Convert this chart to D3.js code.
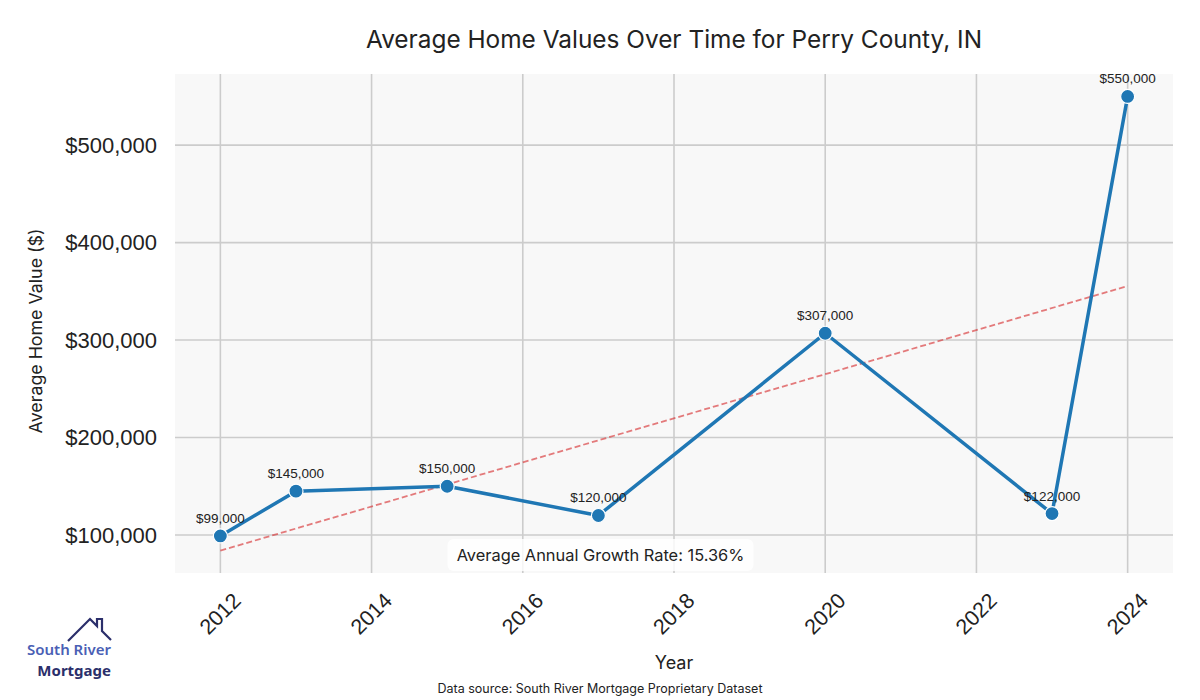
<!DOCTYPE html>
<html>
<head>
<meta charset="utf-8">
<script src="https://cdn.jsdelivr.net/npm/d3@7"></script>
<style>
  body { margin: 0; background: #fff; }
  svg text { fill: #222; }
</style>
</head>
<body>
<div class="chart"></div>
<script>
// data
var years = [2012, 2013, 2015, 2017, 2020, 2023, 2024];
var values = [99000, 145000, 150000, 120000, 307000, 122000, 550000];
var trendYears = [2012, 2024];
var trendValues = [84000, 355500];
var xTicks = [2012, 2014, 2016, 2018, 2020, 2022, 2024];
var yTicks = [100000, 200000, 300000, 400000, 500000];
var growthText = "Average Annual Growth Rate: 15.36%";

var svgWidth = 1200;
var svgHeight = 700;
var margin = {top: 74, right: 27, bottom: 127, left: 175};
var width = svgWidth - margin.left - margin.right;
var height = svgHeight - margin.top - margin.bottom;

var headFont = "Inter, 'Noto Sans', sans-serif";
var numFont = "'Liberation Sans', Arial, sans-serif";

var svg = d3.select(".chart")
  .append("svg")
  .attr("width", svgWidth)
  .attr("height", svgHeight);

var chartGroup = svg.append("g")
  .attr("transform", `translate(${margin.left},${margin.top})`);

var xScale = d3.scaleLinear()
  .domain([2011.4, 2024.6])
  .range([0, width]);

var yScale = d3.scaleLinear()
  .domain([61000, 573000])
  .range([height, 0]);

// plot background
chartGroup.append("rect")
  .attr("width", width)
  .attr("height", height)
  .attr("fill", "#f8f8f8");

// grid
chartGroup.selectAll(".vgrid")
  .data(xTicks)
  .enter()
  .append("line")
  .attr("x1", d => xScale(d))
  .attr("x2", d => xScale(d))
  .attr("y1", 0)
  .attr("y2", height)
  .attr("stroke", "#cccccc")
  .attr("stroke-width", 1.6);

chartGroup.selectAll(".hgrid")
  .data(yTicks)
  .enter()
  .append("line")
  .attr("x1", 0)
  .attr("x2", width)
  .attr("y1", d => yScale(d))
  .attr("y2", d => yScale(d))
  .attr("stroke", "#cccccc")
  .attr("stroke-width", 1.6);

// axes (labels only)
var fmt = d3.format("$,");
var leftAxis = d3.axisLeft(yScale).tickValues(yTicks).tickFormat(fmt).tickSize(0).tickPadding(18);
var yAxisG = chartGroup.append("g").call(leftAxis);
yAxisG.select(".domain").remove();
yAxisG.selectAll("text")
  .style("font-family", numFont)
  .style("font-size", "22px")
  .attr("fill", "#222");

var xAxisG = chartGroup.append("g")
  .attr("transform", `translate(0, ${height})`);
xAxisG.selectAll("text")
  .data(xTicks)
  .enter()
  .append("text")
  .attr("transform", d => `translate(${xScale(d)}, 41) rotate(-45)`)
  .attr("text-anchor", "middle")
  .attr("dominant-baseline", "central")
  .style("font-family", numFont)
  .style("font-size", "21.5px")
  .text(d => d);

// trend line
var trendLine = d3.line()
  .x((d, i) => xScale(trendYears[i]))
  .y(d => yScale(d));

chartGroup.append("path")
  .datum(trendValues)
  .attr("d", trendLine)
  .attr("fill", "none")
  .attr("stroke", "#d62728")
  .attr("stroke-opacity", 0.6)
  .attr("stroke-width", 1.8)
  .attr("stroke-dasharray", "6,3");

// main line
var valueLine = d3.line()
  .x((d, i) => xScale(years[i]))
  .y(d => yScale(d));

chartGroup.append("path")
  .datum(values)
  .attr("d", valueLine)
  .attr("fill", "none")
  .attr("stroke", "#1f77b4")
  .attr("stroke-width", 3.5)
  .attr("stroke-linejoin", "round");

chartGroup.selectAll("circle")
  .data(values)
  .enter()
  .append("circle")
  .attr("cx", (d, i) => xScale(years[i]))
  .attr("cy", d => yScale(d))
  .attr("r", 7)
  .attr("fill", "#1f77b4")
  .attr("stroke", "#fff")
  .attr("stroke-width", 1.2);

chartGroup.selectAll(".pt-label")
  .data(values)
  .enter()
  .append("text")
  .attr("x", (d, i) => xScale(years[i]))
  .attr("y", d => yScale(d) - 13)
  .attr("text-anchor", "middle")
  .style("font-family", numFont)
  .style("font-size", "13.5px")
  .attr("fill", "#222")
  .text(d => fmt(d));

// growth rate box
var boxG = chartGroup.append("g")
  .attr("transform", `translate(${(447 + 754) / 2 - margin.left}, ${555 - margin.top})`);
boxG.append("rect")
  .attr("x", -153)
  .attr("y", -16)
  .attr("width", 306)
  .attr("height", 32)
  .attr("rx", 6)
  .attr("fill", "#fff")
  .attr("fill-opacity", 0.8);
boxG.append("text")
  .attr("text-anchor", "middle")
  .attr("dominant-baseline", "central")
  .style("font-family", headFont)
  .style("font-size", "16.4px")
  .text(growthText);

// titles
svg.append("text")
  .attr("x", margin.left + width / 2)
  .attr("y", 48)
  .attr("text-anchor", "middle")
  .style("font-family", headFont)
  .style("font-size", "24.4px")
  .text("Average Home Values Over Time for Perry County, IN");

svg.append("text")
  .attr("transform", `translate(42, 331) rotate(-90)`)
  .attr("text-anchor", "middle")
  .style("font-family", headFont)
  .style("font-size", "17.8px")
  .text("Average Home Value ($)");

svg.append("text")
  .attr("x", margin.left + width / 2)
  .attr("y", 669)
  .attr("text-anchor", "middle")
  .style("font-family", headFont)
  .style("font-size", "18px")
  .text("Year");

svg.append("text")
  .attr("x", 600)
  .attr("y", 693)
  .attr("text-anchor", "middle")
  .style("font-family", headFont)
  .style("font-size", "12.5px")
  .text("Data source: South River Mortgage Proprietary Dataset");

// logo
var logo = svg.append("g");
logo.append("path")
  .attr("d", "M68,641 L90,619 L97,626 L97,619 L102,619 L102,631 L111,640")
  .attr("fill", "none")
  .attr("stroke", "#2b2f6b")
  .attr("stroke-width", 2.2)
  .attr("stroke-linejoin", "miter");
logo.append("text")
  .attr("x", 111)
  .attr("y", 655)
  .attr("text-anchor", "end")
  .style("font-family", "'Noto Sans', sans-serif")
  .style("font-size", "15px")
  .style("font-weight", 600)
  .style("fill", "#4a5fb5")
  .text("South River");
logo.append("text")
  .attr("x", 111)
  .attr("y", 676)
  .attr("text-anchor", "end")
  .style("font-family", "'Noto Sans', sans-serif")
  .style("font-size", "15px")
  .style("font-weight", 700)
  .style("fill", "#2b2f6b")
  .text("Mortgage");
</script>
</body>
</html>
